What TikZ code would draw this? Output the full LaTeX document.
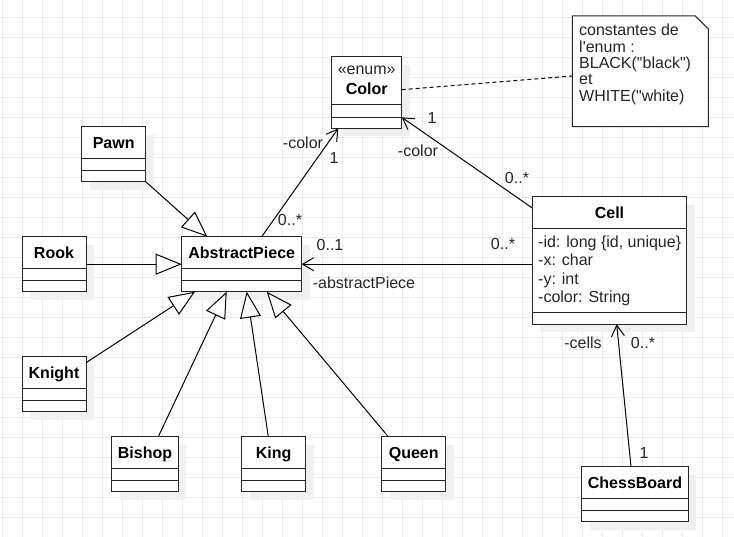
\documentclass[tikz,border=0pt]{standalone}
\usepackage{fontspec}
\newfontfamily\umlfont{Liberation Sans}
\usetikzlibrary{arrows.meta,calc,shadows}

\tikzset{
  gridline/.style={draw=black!8, line width=0.8pt},
  clsbox/.style={draw=black!85, line width=1pt, fill=white, inner sep=0pt, outer sep=0pt,
    anchor=north west,
    drop shadow={shadow xshift=8pt, shadow yshift=-8pt, fill=black!6, opacity=1}},
  divider/.style={draw=black!85, line width=1pt},
  clstitle/.style={font=\umlfont\fontsize{16}{19}\selectfont\bfseries, inner sep=0pt,
    text height=11.5pt, text depth=3.4pt},
  lbl/.style={font=\umlfont\fontsize{16}{19}\selectfont, inner sep=0pt, text=black!85},
  attrs/.style={font=\umlfont\fontsize{16}{18.5}\selectfont, inner sep=0pt, align=left,
    anchor=west, text=black!85},
  notebox/.style={draw=black!85, line width=1pt, fill=white},
  notetext/.style={font=\umlfont\fontsize{16}{16.3}\selectfont, inner sep=0pt, align=left,
    anchor=north west, text=black!85},
  assoc/.style={line width=1pt, -{Straight Barb[length=11pt,width=13pt]}},
  gen/.style={line width=1pt, -{Triangle[length=26pt,width=21pt,fill=white]}},
  notelink/.style={line width=1pt, dash pattern=on 4pt off 3pt},
}

% class box: name, x, y, width, height, offset of second divider, title
\newcommand{\umlclass}[7]{%
  \node[clsbox, minimum width=#4pt, minimum height=#5pt] (#1) at (#2,#3) {};
  \node[clstitle] (#1-name) at ($(#1.north)+(0,17.5)$) {#7};
  \draw[divider] ($(#1.north west)+(0,31.6)$) -- ($(#1.north east)+(0,31.6)$);
  \draw[divider] ($(#1.north west)+(0,#6)$) -- ($(#1.north east)+(0,#6)$);
}

\begin{document}
\begin{tikzpicture}[x=1pt, y=-1pt]
  \useasboundingbox (0,0) rectangle (734,537);
  \fill[white] (0,0) rectangle (734,537);

  % background grid
  \foreach \k in {0,...,36} {
    \draw[gridline] (2.7+20*\k, 0) -- (2.7+20*\k, 537);
  }
  \foreach \k in {0,...,26} {
    \draw[gridline] (0, -2.7+20*\k) -- (734, -2.7+20*\k);
  }

  % piece classes
  \umlclass{pawn}{81.7}{126.7}{64}{55}{44.2}{Pawn}
  \umlclass{rook}{22}{236.7}{64}{55}{44.2}{Rook}
  \umlclass{knight}{22}{356.7}{64}{55}{44.2}{Knight}
  \umlclass{bishop}{111.7}{436.7}{66.6}{55}{44.2}{Bishop}
  \umlclass{king}{241.7}{436.7}{64}{55}{44.2}{King}
  \umlclass{queen}{381.7}{436.7}{64}{55}{44.2}{Queen}
  \umlclass{ap}{181.7}{236.7}{120}{55}{44.2}{AbstractPiece}
  \umlclass{board}{581.7}{466.7}{106.6}{55}{44.2}{ChessBoard}

  % enumeration Color
  \node[clsbox, minimum width=70pt, minimum height=71.6pt] (color) at (331.7,56.7) {};
  \node[lbl] (color-stereo) at ($(color.north)+(0,13.3)$) {«enum»};
  \node[clstitle] (color-name) at ($(color.north)+(0,33.3)$) {Color};
  \draw[divider] ($(color.north west)+(0,47.6)$) -- ($(color.north east)+(0,47.6)$);
  \draw[divider] ($(color.north west)+(0,60.6)$) -- ($(color.north east)+(0,60.6)$);

  % class Cell with its attributes
  \node[clsbox, minimum width=154.4pt, minimum height=127.6pt] (cell) at (532.3,196.7) {};
  \node[clstitle] (cell-name) at ($(cell.north)+(0,17.5)$) {Cell};
  \draw[divider] ($(cell.north west)+(0,31.6)$) -- ($(cell.north east)+(0,31.6)$);
  \draw[divider] ($(cell.north west)+(0,116)$) -- ($(cell.north east)+(0,116)$);
  \node[attrs] (cell-attrs) at ($(cell.north west)+(5.7,74)$)
    {-id: long \{id, unique\}\\-x: char\\-y: int\\-color: String};

  % note on the enum constants
  \node[inner sep=0pt, outer sep=0pt, minimum width=136pt, minimum height=110.7pt,
        anchor=north west] (note) at (572.3,16) {};
  \draw[notebox] (note.north west) -- ($(note.north east)+(-13,0)$)
    -- ($(note.north east)+(0,13)$) -- (note.south east) -- (note.south west) -- cycle;
  \node[notetext] (note-text) at (579,24.1)
    {constantes de\\l'enum :\\BLACK("black")\\et\\WHITE("white)};
  \draw[notelink] ($(color.north east)+(0,33)$) -- ($(note.north west)+(0,60)$);

  % generalizations
  \draw[gen] (pawn.south east) -- ($(ap.north west)+(25.6,0)$);
  \draw[gen] (rook.east) -- (ap.west);
  \draw[gen] ($(knight.north east)+(0,6)$) -- ($(ap.south west)+(13.3,0)$);
  \draw[gen] ($(bishop.north west)+(46.6,0)$) -- ($(ap.south west)+(45,0)$);
  \draw[gen] ($(king.north west)+(26.6,0)$) -- ($(ap.south west)+(65,0)$);
  \draw[gen] ($(queen.north west)+(6.6,0)$) -- ($(ap.south west)+(85,0)$);

  % associations
  \draw[assoc] ($(ap.north west)+(80,0)$) -- ($(color.south west)+(6.6,0)$);
  \draw[assoc] ($(cell.north west)+(0,11.3)$) -- ($(color.south east)+(0,-11)$);
  \draw[assoc] (cell.west |- ap.east) -- (ap.east);
  \draw[assoc] ($(board.north west)+(49.3,0)$) -- ($(cell.south west)+(84.4,0)$);

  % association end labels
  \node[lbl] (ap-color-role) at (303,143) {-color};
  \node[lbl] (ap-color-mult) at (334,158) {1};
  \node[lbl] (ap-color-src) at (290,220) {0..*};
  \node[lbl] (cell-color-mult) at (432,118) {1};
  \node[lbl] (cell-color-role) at (418,151) {-color};
  \node[lbl] (cell-color-src) at (517,178) {0..*};
  \node[lbl] (cell-ap-mult) at (330,245) {0..1};
  \node[lbl] (cell-ap-src) at (503,244) {0..*};
  \node[lbl] (cell-ap-role) at (364,283) {-abstractPiece};
  \node[lbl] (board-cell-role) at (583,343) {-cells};
  \node[lbl] (board-cell-mult) at (643,343) {0..*};
  \node[lbl] (board-cell-src) at (644,453) {1};
\end{tikzpicture}
\end{document}
